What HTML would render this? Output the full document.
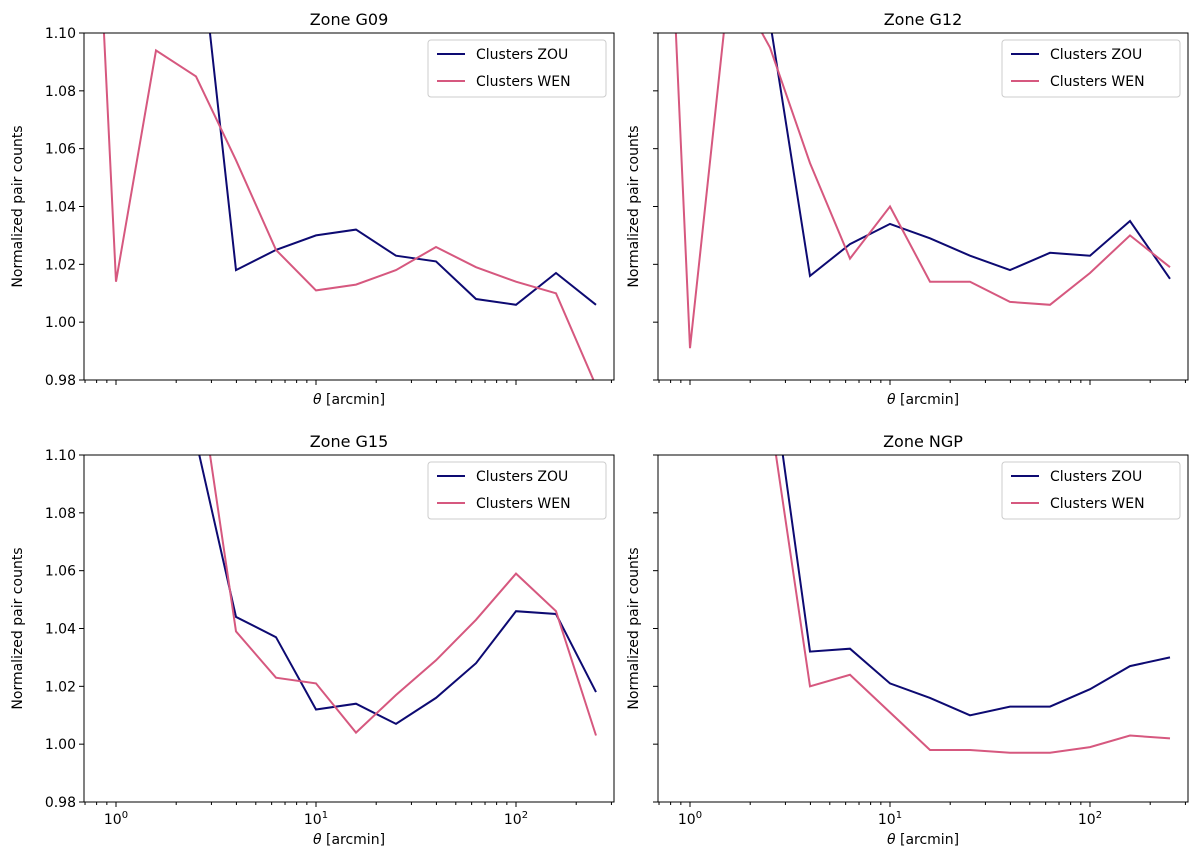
<!DOCTYPE html>
<html><head><meta charset="utf-8">
<style>
body{margin:0;background:#fff;}
svg text{font-family:"DejaVu Sans","Liberation Sans",sans-serif;fill:#000;}
</style></head>
<body>
<svg id="fig" width="1200" height="861" xmlns="http://www.w3.org/2000/svg"></svg>
<script>
const exps = [-0.2,0,0.2,0.4,0.6,0.8,1,1.2,1.4,1.6,1.8,2,2.2,2.4];
const titles = ["Zone G09","Zone G12","Zone G15","Zone NGP"];
const zouG09 = [null,1.5,1.4,1.144,1.018,1.025,1.030,1.032,1.023,1.021,1.008,1.006,1.017,1.006];
const wenG09 = [1.3,1.014,1.094,1.085,1.056,1.025,1.011,1.013,1.018,1.026,1.019,1.014,1.010,0.978];
const zouG12 = [null,1.5,1.4,1.104,1.016,1.027,1.034,1.029,1.023,1.018,1.024,1.023,1.035,1.015];
const wenG12 = [1.3,0.991,1.12,1.095,1.055,1.022,1.040,1.014,1.014,1.007,1.006,1.017,1.030,1.019];
const zouG15 = [null,1.5,1.3,1.105,1.044,1.037,1.012,1.014,1.007,1.016,1.028,1.046,1.045,1.018];
const wenG15 = [null,1.5,1.4,1.133,1.039,1.023,1.021,1.004,1.017,1.029,1.043,1.059,1.046,1.003];
const zouNGP = [null,1.5,1.4,1.132,1.032,1.033,1.021,1.016,1.010,1.013,1.013,1.019,1.027,1.030];
const wenNGP = [null,1.5,1.4,1.114,1.020,1.024,1.011,0.998,0.998,0.997,0.997,0.999,1.003,1.002];
const zouAll = [zouG09,zouG12,zouG15,zouNGP];
const wenAll = [wenG09,wenG12,wenG15,wenNGP];
const yTicks = [0.98,1.00,1.02,1.04,1.06,1.08,1.10];
const yTickLabels = ["0.98","1.00","1.02","1.04","1.06","1.08","1.10"];

const NS="http://www.w3.org/2000/svg";
const svg=document.getElementById('fig');
function mk(tag,attrs,parent){const e=document.createElementNS(NS,tag);for(const k in attrs)e.setAttribute(k,attrs[k]);(parent||svg).appendChild(e);return e;}
const W=530,H=347;
const origins=[[84,33],[658,33],[84,455],[658,455]];
const ZOU="#0d0a72",WEN="#d6587f";
origins.forEach((o,i)=>{
  const [ox,oy]=o;
  const xs=v=>ox+32+200*v;
  const ys=v=>oy+(1.10-v)*H/0.12;
  const g=mk('g',{});
  
  
  const cp=mk('clipPath',{id:'cp'+i},g);
  mk('rect',{x:ox,y:oy,width:W,height:H},cp);
  [[zouAll[i],ZOU,'zou'],[wenAll[i],WEN,'wen']].forEach(([arr,col,nm])=>{
    let d='';
    arr.forEach((v,k)=>{if(v===null)return;d+=(d?'L':'M')+xs(exps[k]).toFixed(1)+','+ys(v).toFixed(1);});
    const p=mk('path',{d:d,fill:'none',stroke:col,'stroke-width':2,'clip-path':'url(#cp'+i+')'},g);
    
    
  });
  const fr=mk('rect',{x:ox,y:oy,width:W,height:H,fill:'none',stroke:'#000','stroke-width':1},g);
  
  
  yTicks.forEach((t,k)=>{
    const y=ys(t);
    mk('line',{x1:ox-5,x2:ox,y1:y,y2:y,stroke:'#000'},g);
    if(i%2===0){const tx=mk('text',{x:ox-8,y:y+5,'text-anchor':'end','font-size':14},g);tx.textContent=yTickLabels[k];
      }
  });
  for(let d=-1;d<=2;d++){
    for(let m=1;m<10;m++){
      const lv=d+Math.log10(m);const x=xs(lv);
      if(x<ox||x>ox+W)continue;
      mk('line',{x1:x,x2:x,y1:oy+H,y2:oy+H+(m===1?5:3),stroke:'#000'},g);
      if(m===1&&i>=2){const tx=mk('text',{x:x,y:oy+H+22,'text-anchor':'middle','font-size':14},g);
        tx.innerHTML='10<tspan dy="-6" font-size="10">'+d+'</tspan>';
        }
    }
  }
  const t=mk('text',{x:ox+W/2,y:oy-8,'text-anchor':'middle','font-size':16},g);t.textContent=titles[i];
  
  const xl=mk('text',{x:ox+W/2,y:oy+H+(i>=2?42:24),'text-anchor':'middle','font-size':14},g);
  xl.innerHTML='<tspan font-style="italic">θ</tspan> [arcmin]';
  
  const yl=mk('text',{x:0,y:0,'text-anchor':'middle','font-size':14,transform:`translate(${ox-(i%2===0?62:20)},${oy+H/2}) rotate(-90)`},g);
  yl.textContent='Normalized pair counts';
  
  const lg=mk('g',{},g);
  
  mk('rect',{x:ox+344,y:oy+7,width:178,height:57,rx:3,fill:'#fff',stroke:'#ccc'},lg);
  [['Clusters ZOU',ZOU],['Clusters WEN',WEN]].forEach(([lab,col],k)=>{
    const y=oy+21+k*27;
    mk('line',{x1:ox+353,x2:ox+381,y1:y,y2:y,stroke:col,'stroke-width':2},lg);
    const tx=mk('text',{x:ox+392,y:y+5,'font-size':14},lg);tx.textContent=lab;
    
  });
});
</script>
</body></html>
